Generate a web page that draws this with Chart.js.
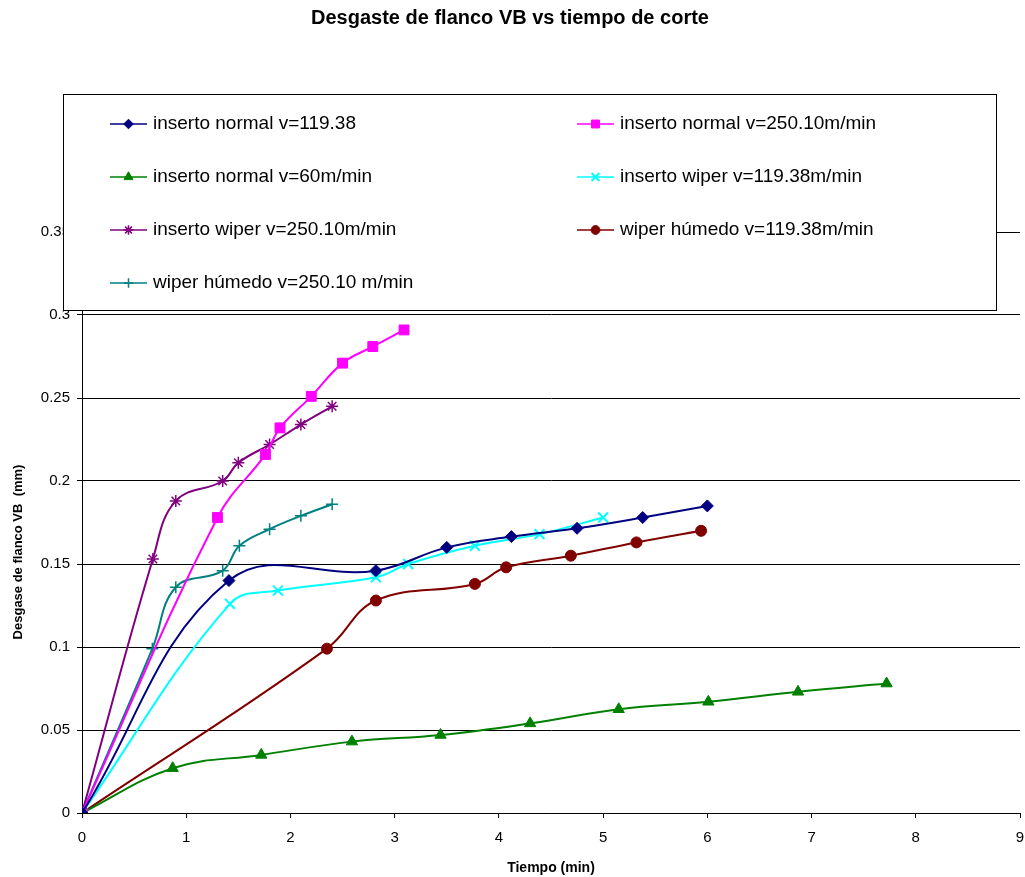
<!DOCTYPE html>
<html lang="es">
<head>
<meta charset="utf-8">
<title>Desgaste de flanco VB vs tiempo de corte</title>
<script src="https://cdn.jsdelivr.net/npm/chart.js@4/dist/chart.umd.min.js"></script>
<style>
  html, body { margin: 0; padding: 0; background: #fff; }
  canvas { display: block; }
</style>
</head>
<body>
<canvas id="chart-desgaste" width="1025" height="877"></canvas>
<script>
// Tiempo de corte (min) y desgaste de flanco VB (mm) de cada ensayo
const tNormal119 = [0, 1.41, 2.82, 3.50, 4.12, 4.75, 5.38, 6.00];
const vbNormal119 = [0, 0.140, 0.146, 0.160, 0.1665, 0.1715, 0.178, 0.185];
const tNormal250 = [0, 1.30, 1.76, 1.90, 2.20, 2.50, 2.79, 3.09];
const vbNormal250 = [0, 0.178, 0.216, 0.232, 0.251, 0.271, 0.281, 0.291];
const tNormal60 = [0, 0.87, 1.72, 2.59, 3.44, 4.30, 5.15, 6.01, 6.87, 7.72];
const vbNormal60 = [0, 0.027, 0.035, 0.043, 0.047, 0.054, 0.0625, 0.067, 0.073, 0.078];
const tWiper119 = [0, 1.42, 1.88, 2.82, 3.13, 3.77, 4.39, 5.00];
const vbWiper119 = [0, 0.126, 0.134, 0.142, 0.150, 0.161, 0.168, 0.178];
const tWiper250 = [0, 0.68, 0.90, 1.35, 1.50, 1.80, 2.10, 2.40];
const vbWiper250 = [0, 0.153, 0.188, 0.200, 0.211, 0.222, 0.234, 0.245];
const tHumedo119 = [0, 2.35, 2.82, 3.77, 4.07, 4.69, 5.32, 5.94];
const vbHumedo119 = [0, 0.099, 0.128, 0.138, 0.148, 0.155, 0.163, 0.170];
const tHumedo250 = [0, 0.675, 0.90, 1.35, 1.51, 1.80, 2.10, 2.40];
const vbHumedo250 = [0, 0.099, 0.136, 0.146, 0.161, 0.171, 0.179, 0.186];

const seriesNames = [
    'inserto normal v=119.38',
    'inserto normal v=250.10m/min',
    'inserto normal v=60m/min',
    'inserto wiper v=119.38m/min',
    'inserto wiper v=250.10m/min',
    'wiper húmedo v=119.38m/min',
    'wiper húmedo v=250.10 m/min'
];
const seriesT = [tNormal119, tNormal250, tNormal60, tWiper119, tWiper250, tHumedo119, tHumedo250];
const seriesVB = [vbNormal119, vbNormal250, vbNormal60, vbWiper119, vbWiper250, vbHumedo119, vbHumedo250];

const yTicks = [0, 0.05, 0.1, 0.15, 0.2, 0.25, 0.3, 0.35];

// colores y marcadores tipo Excel
const estilos = [
    { color: '#000080', punto: 'rectRot', r: 6, bw: 1 },
    { color: '#FF00FF', punto: 'rect', r: 7, bw: 1 },
    { color: '#008000', punto: 'triangle', r: 6.5, bw: 1 },
    { color: '#00FFFF', punto: 'crossRot', r: 7, bw: 2 },
    { color: '#800080', punto: 'star', r: 6, bw: 1.5 },
    { color: '#800000', punto: 'circle', r: 5.5, bw: 1 },
    { color: '#008080', punto: 'cross', r: 6, bw: 1.5 }
];

const FUENTE = '"Liberation Sans", Arial, sans-serif';

// leyenda en dos columnas con recuadro, pintada encima del gráfico
const leyendaExcel = {
    id: 'leyendaExcel',
    afterDraw(chart) {
        const ctx = chart.ctx;
        ctx.save();
        ctx.fillStyle = '#fff';
        ctx.fillRect(63.5, 94.5, 933, 216);
        ctx.strokeStyle = '#000';
        ctx.lineWidth = 1;
        ctx.strokeRect(63.5, 94.5, 933, 216);

        chart.data.datasets.forEach((ds, i) => {
            const x0 = i % 2 ? 577 : 110;
            const y = 124 + Math.floor(i / 2) * 53;
            ctx.strokeStyle = ds.borderColor;
            ctx.fillStyle = ds.borderColor;
            ctx.lineWidth = 1.5;
            ctx.beginPath();
            ctx.moveTo(x0, y);
            ctx.lineTo(x0 + 37, y);
            ctx.stroke();
            ctx.lineWidth = ds.pointBorderWidth;
            Chart.helpers.drawPoint(ctx, { pointStyle: ds.pointStyle, radius: ds.pointRadius * 0.8, borderWidth: ds.pointBorderWidth, rotation: 0 }, x0 + 18.5, y);

            ctx.fillStyle = '#000';
            ctx.font = '19px ' + FUENTE;
            ctx.textBaseline = 'middle';
            ctx.textAlign = 'left';
            ctx.fillText(ds.label, x0 + 43, y);
        });

        // título del eje Y
        ctx.translate(18, 552);
        ctx.rotate(-Math.PI / 2);
        ctx.fillStyle = '#000';
        ctx.font = 'bold 13px ' + FUENTE;
        ctx.textAlign = 'center';
        ctx.textBaseline = 'middle';
        ctx.fillText('Desgase de flanco VB  (mm)', 0, 0);
        ctx.restore();
    }
};

document.addEventListener('DOMContentLoaded', function () {
    new Chart(document.getElementById('chart-desgaste'), {
        type: 'line',
        data: {
            datasets: seriesNames.map((name, i) => ({
                label: name,
                data: seriesT[i].map((t, k) => ({ x: t, y: seriesVB[i][k] })),
                borderColor: estilos[i].color,
                backgroundColor: estilos[i].color,
                borderWidth: 2,
                pointStyle: estilos[i].punto,
                pointRadius: estilos[i].r,
                pointBorderWidth: estilos[i].bw,
                pointBackgroundColor: estilos[i].color,
                pointBorderColor: estilos[i].color,
                fill: false,
                tension: 0.4
            }))
        },
        options: {
            responsive: false,
            animation: false,
            events: [],
            // área de trazado fija: sin relleno automático por marcadores ni etiquetas
            layout: { autoPadding: false, padding: { left: 0, right: 5, top: 0, bottom: 0 } },
            plugins: {
                legend: { display: false },
                tooltip: { enabled: false },
                title: {
                    display: true,
                    text: 'Desgaste de flanco VB vs tiempo de corte',
                    color: '#000',
                    font: { family: FUENTE, size: 20, weight: 'bold' },
                    padding: { top: 6, bottom: 202 }
                }
            },
            scales: {
                x: {
                    type: 'linear',
                    min: 0,
                    max: 9,
                    ticks: { stepSize: 1, color: '#000', padding: 11, font: { family: FUENTE, size: 15 } },
                    grid: { drawOnChartArea: false, drawTicks: true, tickLength: 5, color: '#000' },
                    border: { color: '#000' },
                    title: {
                        display: true,
                        text: 'Tiempo (min)',
                        color: '#000',
                        font: { family: FUENTE, size: 14, weight: 'bold' },
                        padding: { top: 4, bottom: 0 }
                    },
                    afterFit(scale) {
                        scale.height = 64;
                        scale.paddingLeft = 0;
                        scale.paddingRight = 0;
                    }
                },
                y: {
                    min: 0,
                    max: 0.35,
                    afterBuildTicks(scale) { scale.ticks = yTicks.map(v => ({ value: v })); },
                    ticks: {
                        color: '#000',
                        padding: 7,
                        font: { family: FUENTE, size: 15 },
                        callback: v => String(+v.toFixed(2))
                    },
                    grid: { color: '#000', tickLength: 5, drawTicks: true },
                    border: { color: '#000' },
                    afterFit(scale) {
                        scale.width = 82;
                        scale.paddingTop = 0;
                        scale.paddingBottom = 0;
                    }
                }
            }
        },
        plugins: [leyendaExcel]
    });
});
</script>
</body>
</html>
